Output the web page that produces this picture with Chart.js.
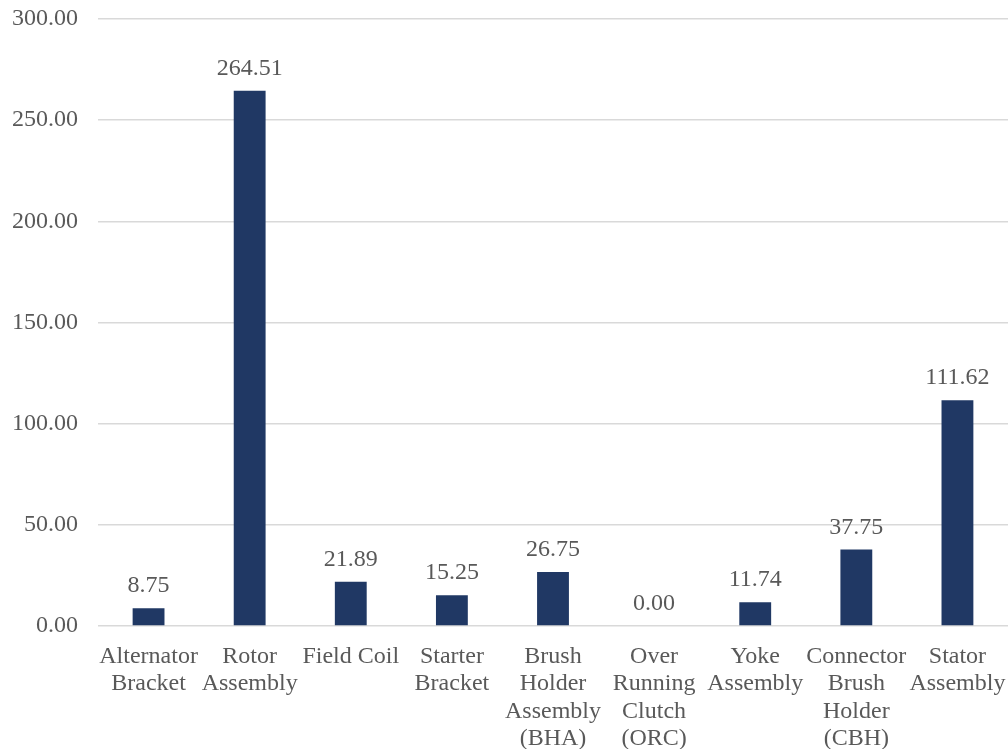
<!DOCTYPE html>
<html>
<head>
<meta charset="utf-8">
<script src="https://cdn.jsdelivr.net/npm/chart.js@4/dist/chart.umd.min.js"></script>
<style>
    html, body { margin: 0; padding: 0; background: #fff; }
    #wrap { width: 1008px; height: 749px; }
</style>
</head>
<body>
<div id="wrap"><canvas id="chart-parts"></canvas></div>
<script>
// --- Part costs per component ---
const PARTS = [
    ['Alternator', 'Bracket'],
    ['Rotor', 'Assembly'],
    'Field Coil',
    ['Starter', 'Bracket'],
    ['Brush', 'Holder', 'Assembly', '(BHA)'],
    ['Over', 'Running', 'Clutch', '(ORC)'],
    ['Yoke', 'Assembly'],
    ['Connector', 'Brush', 'Holder', '(CBH)'],
    ['Stator', 'Assembly'],
];
const VALUES = [8.75, 264.51, 21.89, 15.25, 26.75, 0.00, 11.74, 37.75, 111.62];
const Y_TICKS = [0, 50, 100, 150, 200, 250, 300];

const BAR_COLOR = '#203864';
const TEXT_COLOR = '#595959';
const GRID_COLOR = '#d9d9d9';
const FONT = { family: '"Liberation Serif", "Times New Roman", serif', size: 24 };

// value labels drawn above each bar
const valueLabels = {
    id: 'valueLabels',
    afterDatasetsDraw(chart) {
        const ctx = chart.ctx;
        const meta = chart.getDatasetMeta(0);
        ctx.save();
        ctx.font = `${FONT.size}px ${FONT.family}`;
        ctx.fillStyle = TEXT_COLOR;
        ctx.textAlign = 'center';
        ctx.textBaseline = 'alphabetic';
        meta.data.forEach((bar, i) => {
            ctx.fillText(VALUES[i].toFixed(2), bar.x, bar.y - 16);
        });
        ctx.restore();
    }
};

new Chart(document.getElementById('chart-parts'), {
    type: 'bar',
    data: {
        labels: PARTS,
        datasets: [{
            data: VALUES,
            backgroundColor: BAR_COLOR,
            barPercentage: 0.63,
            categoryPercentage: 0.5,
        }]
    },
    options: {
        responsive: true,
        maintainAspectRatio: false,
        animation: false,
        layout: { padding: { top: 19, right: 0, left: 0, bottom: 0 } },
        plugins: {
            legend: { display: false },
            tooltip: { enabled: false }
        },
        scales: {
            x: {
                grid: { display: false },
                border: { display: false },
                ticks: {
                    color: TEXT_COLOR,
                    font: { ...FONT, lineHeight: 1.14 },
                    padding: 9,
                    maxRotation: 0,
                    autoSkip: false,
                },
                afterFit: s => {
                    s.height = 123;
                    s.paddingLeft = 0;
                    s.paddingRight = 0;
                }
            },
            y: {
                min: 0,
                max: 300,
                afterBuildTicks: s => { s.ticks = Y_TICKS.map(v => ({ value: v })); },
                grid: { color: GRID_COLOR, lineWidth: 1.5, drawTicks: false },
                border: { display: false },
                ticks: {
                    color: TEXT_COLOR,
                    font: FONT,
                    padding: 20,
                    callback: v => Number(v).toFixed(2)
                },
                afterFit: s => {
                    s.width = 98;
                    s.paddingTop = 0;
                    s.paddingBottom = 0;
                }
            }
        }
    },
    plugins: [valueLabels]
});
</script>
</body>
</html>
